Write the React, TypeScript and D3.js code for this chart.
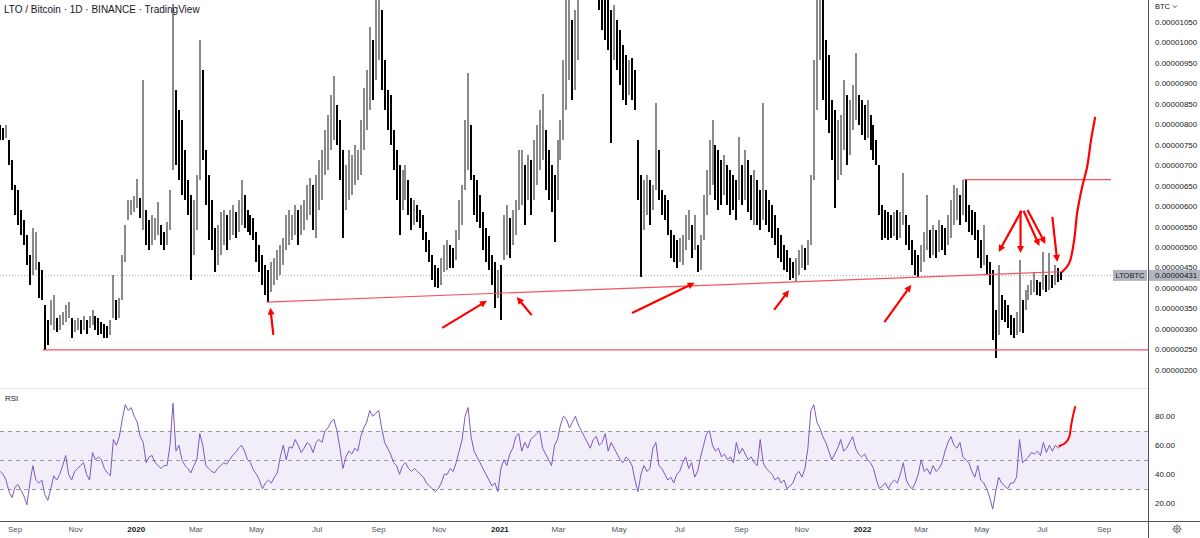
import React, { useEffect, useRef } from 'react';
import * as d3 from 'd3';

// Prices in satoshi (1e-8 BTC), one bar per 3 days starting 2019-08-17
const high2019 = [
  799, 791, 799, 762, 713, 652, 640, 591, 566, 530,
  481, 547, 537, 464, 444, 359, 322, 371, 383, 327,
  334, 342, 359, 366, 327, 322, 327, 322, 332, 322,
  332, 347, 332, 327, 317, 312, 308, 322, 432, 371,
  376, 481, 554, 615, 615, 625,
];
const low2019 = [
  762, 762, 767, 701, 640, 579, 554, 530, 505, 457,
  408, 432, 444, 376, 371, 249, 261, 310, 298, 293,
  298, 310, 317, 327, 278, 293, 298, 288, 298, 288,
  303, 310, 298, 286, 288, 278, 278, 286, 327, 322,
  327, 371, 464, 566, 579, 586,
];
const high2020 = [
  667, 620, 909, 591,
  566, 579, 571, 611, 554, 537, 562, 640, 1095, 884,
  835, 811, 738, 664, 628, 615, 676, 1006, 933, 738,
  676, 615, 547, 554, 586, 591, 579, 591, 603, 586,
  615, 664, 628, 591, 579, 571, 537, 505, 481, 457,
  444, 464, 474, 493, 505, 523, 579, 591, 579, 603,
  591, 603, 615, 652, 669, 652, 676, 713, 738, 786,
  823, 872, 918, 847, 811, 738, 701, 738, 725, 750,
  738, 811, 889, 933, 1038, 1006, 1160, 1180, 1080, 957,
  884, 872, 786, 738, 701, 689, 701, 664, 620, 615,
  603, 591, 579, 537, 518, 481, 457, 449, 474, 505,
  518, 505, 498, 542, 615, 652, 811, 926, 799, 676,
  664, 628, 586, 547, 527, 481, 464, 444,
];
const low2020 = [
  596, 571, 542, 505,
  493, 505, 518, 530, 505, 493, 505, 542, 689, 701,
  664, 628, 615, 579, 420, 481, 542, 664, 713, 603,
  518, 493, 440, 457, 481, 505, 493, 518, 530, 523,
  537, 554, 547, 537, 530, 518, 464, 440, 408, 383,
  366, 391, 408, 420, 432, 457, 493, 505, 518, 530,
  505, 530, 542, 566, 579, 542, 523, 591, 615, 676,
  689, 738, 762, 750, 664, 523, 591, 615, 628, 652,
  664, 676, 738, 786, 835, 860, 909, 957, 884, 835,
  786, 750, 689, 615, 530, 591, 615, 579, 542, 554,
  562, 547, 518, 488, 464, 420, 403, 400, 408, 440,
  444, 449, 449, 469, 518, 554, 640, 689, 664, 579,
  562, 547, 493, 464, 444, 408, 352, 376,
];
const high2021 = [
  457, 579, 603, 571,
  591, 615, 738, 738, 701, 725, 713, 762, 799, 835,
  874, 786, 738, 701, 676, 762, 811, 957, 1150, 1200,
  1055, 1080, 1180, 1300, 1340, 1320, 1360, 1330, 1290, 1250,
  1200, 1180, 1115, 1080, 1092, 1055, 1031, 994, 970, 957,
  962, 933, 762, 676, 664, 676, 664, 652, 852, 738,
  640, 628, 615, 542, 530, 518, 523, 530, 579, 591,
  554, 579, 505, 530, 628, 689, 762, 811, 750, 738,
  713, 725, 701, 689, 676, 664, 769, 701, 738, 713,
  676, 689, 664, 640, 852, 640, 615, 603, 579, 547,
  530, 505, 493, 474, 464, 474, 493, 505, 498, 518,
  676, 957, 1160, 1200, 1110, 1006, 970, 860, 835, 811,
  823, 909, 872, 860, 896, 975, 872, 860,
];
const low2021 = [
  322, 469, 481, 474,
  505, 530, 591, 603, 554, 615, 579, 615, 652, 689,
  713, 640, 615, 586, 513, 615, 713, 762, 835, 909,
  860, 884, 957, 1140, 1180, 1150, 1200, 1170, 1130, 1080,
  1031, 1006, 982, 755, 957, 933, 896, 860, 847, 872,
  860, 835, 615, 427, 542, 579, 554, 591, 640, 615,
  579, 566, 530, 474, 464, 449, 464, 457, 493, 518,
  474, 493, 440, 444, 518, 579, 628, 652, 615, 591,
  603, 628, 603, 579, 591, 566, 615, 603, 615, 586,
  566, 554, 554, 542, 566, 554, 537, 523, 505, 474,
  464, 444, 440, 420, 425, 415, 432, 449, 444, 457,
  505, 664, 835, 957, 860, 811, 779, 713, 596, 664,
  676, 738, 701, 725, 786, 811, 799, 774,
];
const high2022 = [
  847, 860,
  823, 799, 762, 701, 603, 591, 586, 579, 586, 591,
  586,
  681, 579, 554, 518, 493, 481, 505, 537, 628, 542,
  554, 542, 566, 554, 547, 579, 615, 652, 645, 628,
  664, 667, 603, 591, 586, 542, 518, 554, 481, 464,
  444, 347, 457, 383, 371, 359, 334, 327, 342, 469,
  371, 395, 408, 420, 440, 420, 415, 488, 432, 486,
  432, 457, 449, 440,
];
const low2022 = [
  762, 767,
  738, 713, 701, 579, 518, 523, 518, 523, 527, 518,
  523,
  554, 505, 493, 457, 432, 427, 440, 464, 493, 474,
  481, 474, 488, 493, 481, 505, 523, 554, 566, 554,
  579, 562, 537, 530, 518, 474, 449, 457, 432, 408,
  273, 229, 286, 322, 317, 303, 286, 278, 286, 293,
  290, 347, 371, 383, 391, 383, 381, 395, 391, 395,
  400, 408, 415, 420,
];

// RSI(14), same 3-day sampling
const rsi2019 = [
  42, 40, 36, 28, 24, 31, 33, 29, 25, 19,
  34, 46, 36, 34, 36, 26, 22, 30, 39, 36,
  40, 46, 53, 40, 36, 42, 44, 46, 48, 40,
  36, 55, 50, 52, 50, 44, 41, 39, 64, 60,
  66, 78, 88, 84, 86, 80,
];
const rsi2020 = [
  76, 66, 62, 48,
  52, 53, 48, 46, 44, 46, 46, 60, 89, 56,
  60, 50, 46, 44, 41, 46, 50, 68, 60, 46,
  44, 42, 41, 44, 46, 48, 47, 50, 53, 55,
  58, 60, 56, 50, 48, 43, 40, 36, 30, 34,
  36, 34, 38, 41, 52, 60, 50, 59, 58, 64,
  60, 55, 58, 62, 60, 55, 62, 64, 62, 70,
  72, 76, 78, 70, 58, 44, 52, 56, 54, 58,
  56, 66, 72, 76, 84, 80, 82, 84, 72, 62,
  58, 54, 48, 46, 40, 46, 48, 44, 42, 44,
  42, 40, 38, 34, 32, 30, 28, 30, 34, 40,
  40, 44, 42, 48, 56, 64, 80, 86, 66, 56,
  52, 48, 44, 40, 36, 32, 34, 28,
];
const rsi2021 = [
  44, 50,
  46, 54, 58, 66, 68, 56, 62, 58, 64, 66,
  68, 70, 58, 54, 50, 46, 60, 64, 74, 80,
  78, 72, 76, 80, 74, 70, 66, 62, 58, 64,
  66, 60, 62, 68, 56, 62, 58, 54, 50, 48,
  52, 50, 46, 36, 28, 40, 46, 42, 44, 58,
  62, 46, 44, 40, 36, 38, 34, 40, 42, 48,
  52, 44, 48, 38, 42, 52, 60, 68, 70, 60,
  56, 58, 52, 54, 50, 52, 48, 62, 54, 58,
  54, 50, 52, 48, 46, 64, 48, 44, 42, 40,
  36, 38, 34, 36, 30, 32, 34, 40, 42, 38,
  44, 58, 84, 88, 76, 72, 66, 62, 56, 50,
  54, 58, 64, 56, 58, 62, 66, 58, 54, 52,
];
const rsi2022 = [
  54, 50, 48, 44, 36, 30, 32, 34, 30, 34,
  36, 34, 40, 48, 36, 32, 30, 34, 40, 50,
  42, 44, 40, 46, 42, 44, 48, 56, 62, 66,
  60, 58, 62, 52, 50, 48, 42, 38, 46, 36,
  34, 30, 24, 16, 28, 38, 34, 32, 30, 34,
  34, 38, 64, 48, 50, 52, 55, 54, 56, 53,
  62, 55, 60, 56, 60, 58, 60,
];

const firstBarDate = '2019-08-17';
const barStepDays = 3;
const lastPrice = 431;

const priceTicks = [200, 250, 300, 350, 400, 450, 500, 550, 600, 650, 700, 750, 800, 850, 900, 950, 1000, 1050];
const rsiTicks = [20, 40, 60, 80];
const rsiLevels = [70, 50, 30];
const timeTicks = [
  '2019-09-01', '2019-11-01', '2020-01-01', '2020-03-01', '2020-05-01', '2020-07-01',
  '2020-09-01', '2020-11-01', '2021-01-01', '2021-03-01', '2021-05-01', '2021-07-01',
  '2021-09-01', '2021-11-01', '2022-01-01', '2022-03-01', '2022-05-01', '2022-07-01', '2022-09-01',
];

// hand-drawn annotations, in date / price terms
const supportLine: [string, number][] = [['2019-09-29', 249], ['2022-12-31', 249]];
const trendLine: [string, number][] = [['2020-05-11', 366], ['2022-07-20', 440]];
const resistanceLine: [string, number][] = [['2022-04-13', 665], ['2022-09-08', 665]];
const targetCurve: [string, number][] = [
  ['2022-07-21', 440], ['2022-07-28', 461], ['2022-08-02', 518], ['2022-08-05', 584],
  ['2022-08-10', 647], ['2022-08-15', 696], ['2022-08-19', 762], ['2022-08-23', 816],
];
const rsiCurve: [string, number][] = [
  ['2022-07-18', 59.5], ['2022-07-24', 61.6], ['2022-07-28', 65.7],
  ['2022-07-30', 74], ['2022-08-01', 81], ['2022-08-03', 86.4],
];
const arrowNotes: [string, number, string, number][] = [
  ['2020-05-18', 286, '2020-05-15', 352],
  ['2020-11-04', 303, '2020-12-19', 369],
  ['2021-02-02', 334, '2021-01-18', 378],
  ['2021-05-14', 339, '2021-07-16', 413],
  ['2021-10-04', 347, '2021-10-19', 395],
  ['2022-01-23', 317, '2022-02-19', 408],
  ['2022-06-10', 589, '2022-05-18', 488],
  ['2022-06-09', 589, '2022-06-09', 486],
  ['2022-06-12', 589, '2022-06-28', 503],
  ['2022-06-16', 591, '2022-07-04', 508],
  ['2022-07-11', 574, '2022-07-16', 464],
];

const App: React.FC = () => {
  const svgRef = useRef<SVGSVGElement>(null);

  useEffect(() => {
    if (!svgRef.current) return;
    document.body.style.margin = '0';

    const svg = d3.select(svgRef.current);
    svg.selectAll('*').remove();

    const width = 1200;
    const height = 538;
    const axisX = 1148;
    const paneBottom = 388;
    const timeAxisY = 521;
    const font = '"Liberation Sans", Arial, sans-serif';
    const red = '#ff0000';
    const lineRed = '#f7525f';

    const parse = d3.utcParse('%Y-%m-%d');
    const x = d3.scaleUtc()
      .domain([parse('2019-09-01')!, parse('2022-09-01')!])
      .range([15, 1104]);
    const y = d3.scaleLinear().domain([200, 1050]).range([370, 22]);
    const yRsi = d3.scaleLinear().domain([20, 80]).range([503.3, 416.3]);

    const highs = [...high2019, ...high2020, ...high2021, ...high2022];
    const lows = [...low2019, ...low2020, ...low2021, ...low2022];
    const rsi = [...rsi2019, ...rsi2020, ...rsi2021, ...rsi2022];
    const start = parse(firstBarDate)!;
    const bars = highs.map((h, i) => ({
      date: d3.utcDay.offset(start, i * barStepDays),
      high: h,
      low: lows[i],
      rsi: rsi[i],
    }));

    svg.append('rect').attr('width', width).attr('height', height).attr('fill', '#ffffff');

    const defs = svg.append('defs');
    defs.append('clipPath').attr('id', 'mainClip')
      .append('rect').attr('x', 0).attr('y', 0).attr('width', axisX).attr('height', paneBottom);
    defs.append('clipPath').attr('id', 'rsiClip')
      .append('rect').attr('x', 0).attr('y', paneBottom + 1).attr('width', axisX).attr('height', timeAxisY - paneBottom - 1);
    defs.append('marker')
      .attr('id', 'arrowHead')
      .attr('viewBox', '0 0 10 10')
      .attr('refX', 10)
      .attr('refY', 5)
      .attr('markerWidth', 8)
      .attr('markerHeight', 7)
      .attr('markerUnits', 'userSpaceOnUse')
      .attr('orient', 'auto')
      .append('path')
      .attr('d', 'M 0 0 L 10 5 L 0 10 z')
      .attr('fill', red);

    // RSI background band and levels
    svg.append('rect')
      .attr('x', 0).attr('width', axisX)
      .attr('y', yRsi(70)).attr('height', yRsi(30) - yRsi(70))
      .attr('fill', '#7e57c2').attr('fill-opacity', 0.1);
    svg.append('g').selectAll('line')
      .data(rsiLevels)
      .join('line')
      .attr('x1', 0).attr('x2', axisX)
      .attr('y1', d => Math.round(yRsi(d)) + 0.5).attr('y2', d => Math.round(yRsi(d)) + 0.5)
      .attr('stroke', '#9598a1')
      .attr('stroke-width', 1)
      .attr('stroke-dasharray', '4 4');

    // pane frame
    svg.append('line')
      .attr('x1', 0).attr('x2', axisX).attr('y1', paneBottom + 0.5).attr('y2', paneBottom + 0.5)
      .attr('stroke', '#e0e3eb').attr('stroke-width', 1);
    svg.append('line')
      .attr('x1', 0).attr('x2', width).attr('y1', timeAxisY + 0.5).attr('y2', timeAxisY + 0.5)
      .attr('stroke', '#50535e').attr('stroke-width', 1);
    svg.append('line')
      .attr('x1', axisX + 0.5).attr('x2', axisX + 0.5).attr('y1', 0).attr('y2', height)
      .attr('stroke', '#50535e').attr('stroke-width', 1);

    // last price dotted line
    svg.append('line')
      .attr('x1', 0).attr('x2', axisX)
      .attr('y1', Math.round(y(lastPrice)) + 0.5).attr('y2', Math.round(y(lastPrice)) + 0.5)
      .attr('stroke', '#b2b5be').attr('stroke-width', 1).attr('stroke-dasharray', '1 2');

    // bars, snapped to whole pixels
    const main = svg.append('g').attr('clip-path', 'url(#mainClip)');
    main.append('g').attr('shape-rendering', 'crispEdges').selectAll('rect')
      .data(bars)
      .join('rect')
      .attr('x', d => Math.round(x(d.date)) - 1)
      .attr('width', 2)
      .attr('y', d => y(d.high))
      .attr('height', d => Math.max(1, y(d.low) - y(d.high)))
      .attr('fill', (d, i) => {
        if (i === 0) return '#000000';
        const prev = bars[i - 1];
        return d.high + d.low >= prev.high + prev.low ? '#8a8a8a' : '#000000';
      });

    // red horizontal / trend lines
    const pt = (p: [string, number]) => [x(parse(p[0])!), y(p[1])] as [number, number];
    [supportLine, trendLine, resistanceLine].forEach(l => {
      main.append('path')
        .attr('d', d3.line()(l.map(pt)))
        .attr('fill', 'none')
        .attr('stroke', lineRed)
        .attr('stroke-width', 1.2);
    });

    // projected move
    main.append('path')
      .attr('d', d3.line().curve(d3.curveCatmullRom.alpha(0.5))(targetCurve.map(pt)))
      .attr('fill', 'none')
      .attr('stroke', red)
      .attr('stroke-width', 2.2)
      .attr('stroke-linecap', 'round');

    // arrows: shaft stops short of the tip so the head stays sharp
    arrowNotes.forEach(a => {
      const [x1, y1] = pt([a[0], a[1]]);
      const [x2, y2] = pt([a[2], a[3]]);
      const len = Math.hypot(x2 - x1, y2 - y1);
      const k = (len - 4) / len;
      main.append('line')
        .attr('x1', x1).attr('y1', y1)
        .attr('x2', x1 + (x2 - x1) * k).attr('y2', y1 + (y2 - y1) * k)
        .attr('stroke', red)
        .attr('stroke-width', 2.2);
      main.append('path')
        .attr('d', `M ${x1} ${y1} L ${x2} ${y2}`)
        .attr('stroke', 'none')
        .attr('fill', 'none')
        .attr('marker-end', 'url(#arrowHead)');
    });

    // RSI line
    const rsiPane = svg.append('g').attr('clip-path', 'url(#rsiClip)');
    rsiPane.append('path')
      .datum(bars)
      .attr('d', d3.line<typeof bars[number]>().x(d => x(d.date)).y(d => yRsi(d.rsi)))
      .attr('fill', 'none')
      .attr('stroke', '#7e57c2')
      .attr('stroke-width', 1);
    rsiPane.append('path')
      .attr('d', d3.line().curve(d3.curveCatmullRom.alpha(0.5))(rsiCurve.map(p => [x(parse(p[0])!), yRsi(p[1])] as [number, number])))
      .attr('fill', 'none')
      .attr('stroke', red)
      .attr('stroke-width', 2)
      .attr('stroke-linecap', 'round');

    // title
    svg.append('text')
      .attr('x', 4).attr('y', 13)
      .attr('font-family', font).attr('font-size', 10)
      .attr('fill', '#131722')
      .text('LTO / Bitcoin · 1D · BINANCE · TradingView');
    svg.append('text')
      .attr('x', 5).attr('y', 401)
      .attr('font-family', font).attr('font-size', 8)
      .attr('fill', '#131722')
      .text('RSI');

    // price axis
    svg.append('g').selectAll('text')
      .data(priceTicks)
      .join('text')
      .attr('x', 1155)
      .attr('y', d => y(d))
      .attr('dy', '0.35em')
      .attr('font-family', font).attr('font-size', 8)
      .attr('fill', '#131722')
      .text(d => (d / 1e8).toFixed(8));
    svg.append('text')
      .attr('x', 1155).attr('y', 9)
      .attr('font-family', font).attr('font-size', 7.5)
      .attr('fill', '#131722')
      .text('BTC');
    svg.append('path')
      .attr('d', 'M 1173 5.5 L 1175 7.5 L 1177 5.5')
      .attr('fill', 'none').attr('stroke', '#131722').attr('stroke-width', 0.8);

    // last price labels
    const py = y(lastPrice);
    svg.append('rect')
      .attr('x', 1113).attr('y', py - 5.5).attr('width', 34).attr('height', 11)
      .attr('fill', '#b2b5be');
    svg.append('text')
      .attr('x', 1130).attr('y', py).attr('dy', '0.35em').attr('text-anchor', 'middle')
      .attr('font-family', font).attr('font-size', 7.5).attr('fill', '#131722')
      .text('LTOBTC');
    svg.append('rect')
      .attr('x', axisX + 1).attr('y', py - 5.5).attr('width', width - axisX - 1).attr('height', 11)
      .attr('fill', '#b2b5be');
    svg.append('text')
      .attr('x', 1155).attr('y', py).attr('dy', '0.35em')
      .attr('font-family', font).attr('font-size', 8).attr('fill', '#131722')
      .text((lastPrice / 1e8).toFixed(8));

    // RSI axis
    svg.append('g').selectAll('text')
      .data(rsiTicks)
      .join('text')
      .attr('x', 1155)
      .attr('y', d => yRsi(d))
      .attr('dy', '0.35em')
      .attr('font-family', font).attr('font-size', 8)
      .attr('fill', '#131722')
      .text(d => d.toFixed(2));

    // time axis
    const monthFmt = d3.utcFormat('%b');
    svg.append('g').selectAll('text')
      .data(timeTicks.map(t => parse(t)!))
      .join('text')
      .attr('x', d => x(d))
      .attr('y', 532)
      .attr('text-anchor', 'middle')
      .attr('font-family', font).attr('font-size', 8)
      .attr('font-weight', d => (d.getUTCMonth() === 0 ? 'bold' : 'normal'))
      .attr('fill', d => (d.getUTCMonth() === 0 ? '#131722' : '#50535e'))
      .text(d => (d.getUTCMonth() === 0 ? String(d.getUTCFullYear()) : monthFmt(d)));

    // settings gear
    const gear = svg.append('g').attr('transform', 'translate(1177,529)')
      .attr('fill', 'none').attr('stroke', '#50535e').attr('stroke-width', 0.9);
    gear.append('circle').attr('r', 3.2);
    gear.append('circle').attr('r', 1.2);
    d3.range(8).forEach(k => {
      const a = (k * Math.PI) / 4;
      gear.append('line')
        .attr('x1', Math.cos(a) * 3.2).attr('y1', Math.sin(a) * 3.2)
        .attr('x2', Math.cos(a) * 4.6).attr('y2', Math.sin(a) * 4.6);
    });
  }, []);

  return (
    <svg
      ref={svgRef}
      width={1200}
      height={538}
      viewBox="0 0 1200 538"
      style={{ display: 'block', position: 'absolute', left: 0, top: 0 }}
    />
  );
};

export default App;
